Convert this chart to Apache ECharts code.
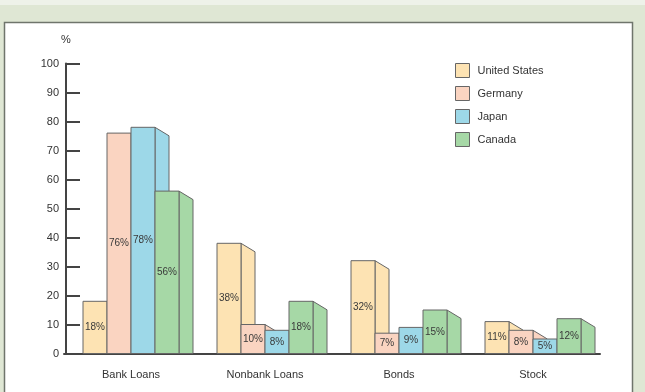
<!DOCTYPE html>
<html>
<head>
<meta charset="utf-8">
<script src="https://cdn.jsdelivr.net/npm/echarts@6/dist/echarts.min.js"></script>
<style>
html,body{margin:0;padding:0;background:#dfe7d4;}
#c{width:645px;height:392px;}
</style>
</head>
<body>
<div id="c"></div>
<script>
const categories = ['Bank Loans', 'Nonbank Loans', 'Bonds', 'Stock'];
const countries = ['United States', 'Germany', 'Japan', 'Canada'];
const usValues = [18, 38, 32, 11];
const germanyValues = [76, 10, 7, 8];
const japanValues = [78, 8, 9, 5];
const canadaValues = [56, 18, 15, 12];
const yTicks = [0, 10, 20, 30, 40, 50, 60, 70, 80, 90, 100];

const seriesValues = [usValues, germanyValues, japanValues, canadaValues];
const colors = ['#fde3b3', '#fad4c1', '#9dd8e8', '#a6d8a6'];
const edge = '#666666';

function makeRender(si) {
  return function (params, api) {
    const ci = api.value(0), v = api.value(1);
    const base = api.coord([ci, 0]);
    const top = api.coord([ci, v]);
    const band = api.size([1, 0])[0];
    const fw = band * 24 / 134;
    const sw = band * 14 / 134;
    const drop = 8.5;
    const x0 = base[0] - 2 * fw + si * fw;
    const st = { fill: colors[si], stroke: edge, lineWidth: 1 };
    return {
      type: 'group',
      children: [
        { type: 'polygon', shape: { points: [[x0 + fw, top[1]], [x0 + fw + sw, top[1] + drop], [x0 + fw + sw, base[1]], [x0 + fw, base[1]]] }, style: st },
        { type: 'rect', shape: { x: x0, y: top[1], width: fw, height: base[1] - top[1] }, style: st },
        { type: 'text', style: { text: v + '%', x: x0 + fw / 2, y: (top[1] + base[1]) / 2, align: 'center', verticalAlign: 'middle', fontSize: 10, fontFamily: 'Liberation Sans, Arial, sans-serif', fill: '#3a3a3a' } }
      ]
    };
  };
}

const chart = echarts.init(document.getElementById('c'));
chart.setOption({
  animation: false,
  textStyle: { fontFamily: 'Liberation Sans, Arial, sans-serif' },
  graphic: [
    { type: 'rect', z: -10, silent: true, shape: { x: 0, y: 0, width: 645, height: 5 }, style: { fill: '#eef2e9' } },
    { type: 'rect', z: -10, silent: true, shape: { x: 4.5, y: 22.5, width: 628, height: 380 }, style: { fill: '#ffffff', stroke: '#6f756c', lineWidth: 1.5 } }
  ],
  grid: { left: 64, right: 45, top: 63.5, bottom: 38.5 },
  legend: {
    orient: 'vertical', left: 450, top: 58, itemWidth: 14, itemHeight: 14, itemGap: 8,
    textStyle: { fontSize: 11, color: '#333', padding: [0, 0, 0, 3] },
    data: countries.map((n, i) => ({ name: n, icon: 'rect', itemStyle: { color: colors[i], borderColor: edge, borderWidth: 1 } }))
  },
  xAxis: {
    type: 'category', data: categories,
    axisLine: { lineStyle: { color: '#444', width: 2 } },
    axisTick: { show: false },
    axisLabel: { fontSize: 11, color: '#333', margin: 16 }
  },
  yAxis: {
    type: 'value', min: 0, max: 100, interval: 10, offset: -2,
    name: '%', nameLocation: 'end', nameGap: 18,
    nameTextStyle: { fontSize: 11, color: '#333', padding: [0, 0, 0, 0] },
    axisLine: { show: true, lineStyle: { color: '#444', width: 2 } },
    axisTick: { show: true, inside: true, length: 14, lineStyle: { color: '#444', width: 2 } },
    axisLabel: { fontSize: 11, color: '#333', margin: 7, formatter: v => yTicks.includes(v) ? String(v) : '' },
    splitLine: { show: false }
  },
  series: countries.map((n, si) => ({
    name: n, type: 'custom', renderItem: makeRender(si),
    itemStyle: { color: colors[si], borderColor: edge, borderWidth: 1 },
    encode: { x: 0, y: 1 },
    data: seriesValues[si].map((v, ci) => [ci, v])
  }))
});
</script>
</body>
</html>
